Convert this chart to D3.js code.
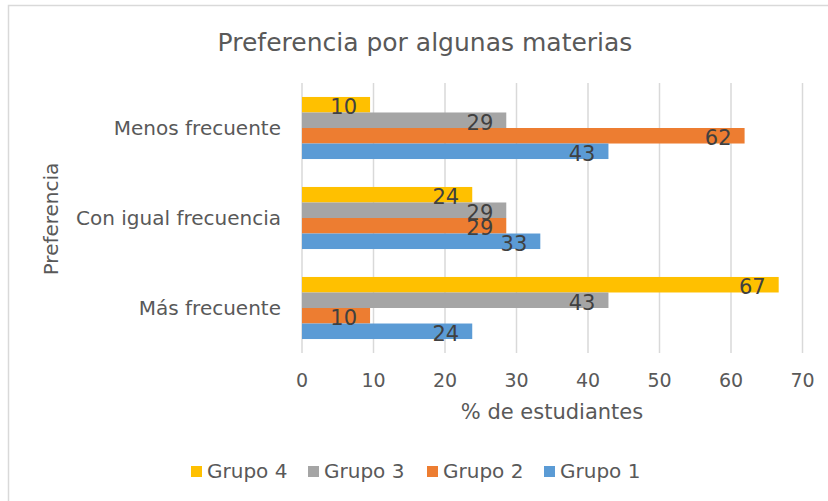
<!DOCTYPE html>
<html><head><meta charset="utf-8">
<script src="https://cdn.jsdelivr.net/npm/d3@7"></script>
<style>body{margin:0;background:#fff}</style>
</head><body>
<svg id="c" width="828" height="501"></svg>
<script>
const categories = ["Menos frecuente", "Con igual frecuencia", "Más frecuente"];
const seriesNames = ["Grupo 4", "Grupo 3", "Grupo 2", "Grupo 1"];
const grupo4 = [9.52, 23.81, 66.67];
const grupo3 = [28.57, 28.57, 42.86];
const grupo2 = [61.9, 28.57, 9.52];
const grupo1 = [42.86, 33.33, 23.81];
const colors = ["#FFC000", "#A5A5A5", "#ED7D31", "#5B9BD5"];
const xTicks = [0, 10, 20, 30, 40, 50, 60, 70];

const values = [grupo4, grupo3, grupo2, grupo1];
const font = "DejaVu Sans, Verdana, sans-serif";
const svg = d3.select("#c").style("font-family", font);

svg.append("rect").attr("x", 8.5).attr("y", 5.5).attr("width", 830).attr("height", 510)
  .attr("fill", "#fff").attr("stroke", "#d9d9d9").attr("stroke-width", 1.5);

const x = d3.scaleLinear().domain([0, 70]).range([302, 802.5]);
const y0 = d3.scaleBand().domain(categories).range([83, 353]).padding(0);
const y1 = d3.scaleBand().domain(seriesNames).range([0, y0.bandwidth()]).paddingInner(0).paddingOuter(0.9);

// gridlines
svg.append("g").selectAll("line").data(xTicks).join("line")
  .attr("x1", d => x(d)).attr("x2", d => x(d)).attr("y1", 83).attr("y2", 353)
  .attr("stroke", "#d9d9d9").attr("stroke-width", 1.5);

// bars
const g = svg.append("g");
seriesNames.forEach((s, si) => {
  categories.forEach((c, ci) => {
    const v = values[si][ci];
    g.append("rect")
      .attr("x", x(0)).attr("y", y0(c) + y1(s))
      .attr("width", x(v) - x(0)).attr("height", y1.bandwidth())
      .attr("fill", colors[si]);
  });
});
// labels
seriesNames.forEach((s, si) => {
  categories.forEach((c, ci) => {
    const v = values[si][ci];
    g.append("text")
      .attr("x", x(v) - 13).attr("y", y0(c) + y1(s) + y1.bandwidth() + 1.5)
      .attr("text-anchor", "end").attr("font-size", 21).attr("fill", "#404040")
      .text(d3.format(".0f")(v));
  });
});

// x axis tick labels
svg.append("g").selectAll("text").data(xTicks).join("text")
  .attr("x", d => x(d)).attr("y", 387).attr("text-anchor", "middle")
  .attr("font-size", 19).attr("fill", "#595959").text(d => d);

// category labels
svg.append("g").selectAll("text").data(categories).join("text")
  .attr("x", 281).attr("y", c => y0(c) + y0.bandwidth() / 2 + 7)
  .attr("text-anchor", "end").attr("font-size", 20).attr("fill", "#595959").text(c => c);

// axis titles
svg.append("text").attr("x", 552).attr("y", 419).attr("text-anchor", "middle")
  .attr("font-size", 21).attr("fill", "#595959").text("% de estudiantes");
svg.append("text").attr("transform", "translate(58,219) rotate(-90)").attr("text-anchor", "middle")
  .attr("font-size", 20).attr("fill", "#595959").text("Preferencia");

// title
svg.append("text").attr("x", 425).attr("y", 51).attr("text-anchor", "middle")
  .attr("font-size", 25).attr("fill", "#595959").text("Preferencia por algunas materias");

// legend
const legendX = [191, 308, 427, 544];
const lg = svg.append("g");
seriesNames.forEach((s, i) => {
  lg.append("rect").attr("x", legendX[i]).attr("y", 466).attr("width", 11).attr("height", 11).attr("fill", colors[i]);
  lg.append("text").attr("x", legendX[i] + 16).attr("y", 478).attr("font-size", 20).attr("fill", "#595959").text(s);
});
</script>
</body></html>
